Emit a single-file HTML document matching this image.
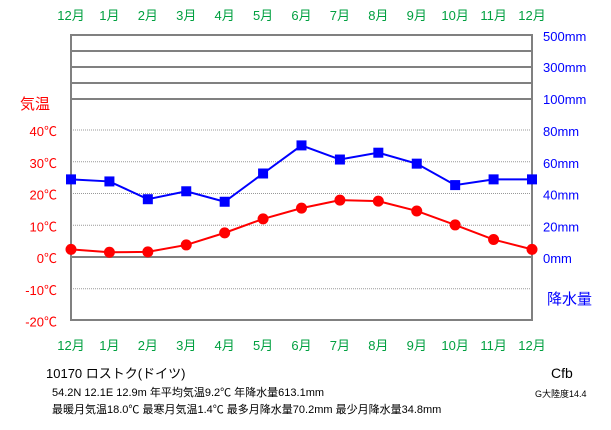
<!DOCTYPE html>
<html><head><meta charset="utf-8"><style>
body{margin:0;background:#fff;width:611px;height:425px;overflow:hidden;font-family:"Liberation Sans","Noto Sans CJK JP",sans-serif}
svg text{font-family:"Liberation Sans","Noto Sans CJK JP",sans-serif}
</style></head><body>
<svg width="611" height="425">
<g id="grid"></g>
<g id="labels"></g>
<g id="series"></g>
<text x="46" y="378" font-size="13">10170 ロストク(ドイツ)</text>
<text x="52" y="396" font-size="11">54.2N 12.1E 12.9m 年平均気温9.2℃ 年降水量613.1mm</text>
<text x="52" y="413" font-size="11">最暖月気温18.0℃ 最寒月気温1.4℃ 最多月降水量70.2mm 最少月降水量34.8mm</text>
<text x="551" y="378" font-size="14">Cfb</text>
<text x="535" y="397" font-size="9">G大陸度14.4</text>
</svg>
<script>
const months=["12月","1月","2月","3月","4月","5月","6月","7月","8月","9月","10月","11月","12月"];
const temps=[2.4,1.5,1.6,3.8,7.6,12.0,15.4,17.9,17.6,14.5,10.1,5.5,2.4];
const precip=[48.9,47.6,36.4,41.4,34.8,52.6,70.3,61.4,65.7,58.8,45.3,48.9,48.9];
const tempTicks=[40,30,20,10,0,-10,-20];
const precipTicks=[0,20,40,60,80];
const upperTicks=["100mm","300mm","500mm"];
const NS="http://www.w3.org/2000/svg";
const X0=71,X1=532,Y0=257,TOP=35,BOT=320;
const xs=i=>X0+i*(X1-X0)/(months.length-1);
const yT=t=>Y0-t*3.175;
const yP=p=>Y0-p*1.5875;
function mk(tag,attrs,parent,txt){const e=document.createElementNS(NS,tag);for(const k in attrs)e.setAttribute(k,attrs[k]);if(txt!==undefined)e.textContent=txt;parent.appendChild(e);return e;}
const g=document.getElementById('grid'),lb=document.getElementById('labels'),s=document.getElementById('series');
tempTicks.forEach(t=>{if(t!==0&&t!==-20){const l=mk('line',{x1:X0,x2:X1,y1:yT(t),y2:yT(t),stroke:'#999','stroke-dasharray':'1,1'},g);

}});
[35,51,67,83,99,Y0].forEach(y=>{const l=mk('line',{x1:X0,x2:X1,y1:y,y2:y,stroke:'#808080','stroke-width':2},g);

});
const fr=mk('rect',{x:X0,y:TOP,width:X1-X0,height:BOT-TOP,fill:'none',stroke:'#808080','stroke-width':2},g);


months.forEach((m,i)=>{[15,345].forEach(y=>{const t=mk('text',{x:xs(i),y:y+5,'font-size':13,fill:'#00a040','text-anchor':'middle'},lb,m);

});});
tempTicks.forEach(t=>{const e=mk('text',{x:57,y:yT(t)+6,'font-size':13,fill:'#f00','text-anchor':'end'},lb,t+'℃');

});
const tt=mk('text',{x:20,y:109,'font-size':15,fill:'#f00'},lb,'気温');


precipTicks.forEach(p=>{const e=mk('text',{x:543,y:yP(p)+6,'font-size':13,fill:'#00f'},lb,p+'mm');

});
upperTicks.forEach((u,i)=>{const e=mk('text',{x:543,y:[104,72,41][i],'font-size':13,fill:'#00f'},lb,u);

});
const pt=mk('text',{x:547,y:304,'font-size':15,fill:'#00f'},lb,'降水量');


const pl=mk('polyline',{points:precip.map((p,i)=>xs(i)+','+yP(p)).join(' '),fill:'none',stroke:'#00f','stroke-width':2},s);


precip.forEach((p,i)=>{const r=mk('rect',{x:xs(i)-5,y:yP(p)-5,width:10,height:10,fill:'#00f'},s);

});
const tl=mk('polyline',{points:temps.map((t,i)=>xs(i)+','+yT(t)).join(' '),fill:'none',stroke:'#f00','stroke-width':2},s);


temps.forEach((t,i)=>{const c=mk('circle',{cx:xs(i),cy:yT(t),r:5.5,fill:'#f00'},s);

});
</script>
</body></html>
